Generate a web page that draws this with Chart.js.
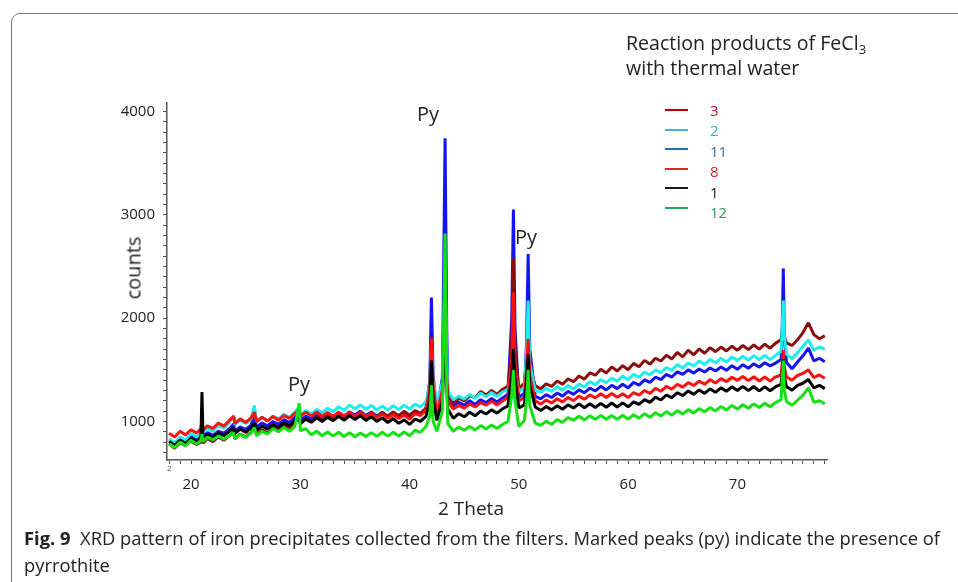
<!DOCTYPE html>
<html lang="en">
<head>
  <meta charset="UTF-8" />
  <meta name="viewport" content="width=device-width, initial-scale=1.0" />
  <title>XRD pattern of iron precipitates</title>
  <script src="https://cdn.jsdelivr.net/npm/chart.js"></script>
  <style>
    body {
      margin: 0;
      background: #fff;
      font-family: "Open Sans", Arial, sans-serif;
      color: #222;
    }
    #wrap {
      position: relative;
      width: 958px;
      height: 582px;
      overflow: hidden;
    }
    .frame {
      position: absolute;
      left: 11px;
      top: 13px;
      width: 1000px;
      height: 640px;
      border: 1.5px solid #7b7b7b;
      border-top-left-radius: 9px;
    }
    canvas {
      position: absolute;
      left: 0;
      top: 0;
    }
    .txt {
      position: absolute;
      white-space: nowrap;
    }
    .center {
      transform: translate(-50%, -50%);
    }
    .py {
      font-size: 20px;
    }
    #legendTitle {
      left: 626px;
      top: 30px;
      font-size: 19.6px;
      line-height: 25px;
    }
    #legendTitle sub {
      font-size: 13px;
      vertical-align: -4px;
      line-height: 0;
    }
    .legLine {
      position: absolute;
      left: 665px;
      width: 23px;
      height: 2px;
    }
    .legText {
      position: absolute;
      left: 710px;
      font-size: 15px;
      line-height: 20px;
    }
    #caption {
      left: 24px;
      top: 524px;
      font-size: 18.5px;
      line-height: 27px;
      transform-origin: left top;
    }
  </style>
</head>
<body>
  <div id="wrap">
    <div class="frame"></div>
    <canvas id="xrdChart" width="958" height="582"></canvas>

    <div class="txt" id="legendTitle">Reaction products of FeCl<sub>3</sub><br>with thermal water</div>
    <div id="legend"></div>

    <div class="txt center py" style="left:428px; top:113px;">Py</div>
    <div class="txt center py" style="left:526px; top:236px;">Py</div>
    <div class="txt center py" style="left:299px; top:383px;">Py</div>

    <div class="txt center" style="left:133px; top:268px; font-size:20px; transform: translate(-50%, -50%) rotate(-90deg);">counts</div>
    <div class="txt center" style="left:471px; top:508px; font-size:19px;">2 Theta</div>
    <div class="txt" style="left:167px; top:462px; font-size:8px; color:#555;">2</div>

    <div class="txt" id="caption"><span id="capLine"><b>Fig. 9</b>&nbsp; XRD pattern of iron precipitates collected from the filters. Marked peaks (py) indicate the presence of</span><br>pyrrothite</div>
  </div>

  <script>
    // 2 theta positions (shared by all samples)
    const twoTheta = [
      18, 18.5, 19, 19.5, 20, 20.5,
      20.9, 21, 21.1, 21.5, 22, 22.5, 23, 23.5,
      23.9, 24, 24.5, 25, 25.5, 25.8, 26, 26.5, 27, 27.5,
      28, 28.5, 29, 29.5, 29.9, 30, 30.5, 31, 31.5, 32, 32.5,
      33, 33.5, 34, 34.5, 35, 35.5, 36, 36.5, 37, 37.5,
      38, 38.5, 39, 39.5, 40, 40.5, 41, 41.5,
      41.85, 42, 42.15, 42.5, 43, 43.1, 43.25, 43.4, 43.5, 44, 44.5,
      45, 45.5, 46, 46.5, 47, 47.5, 48, 48.5, 49,
      49.35, 49.5, 49.65, 50, 50.5, 50.7, 50.85, 51, 51.5, 52, 52.5,
      53, 53.5, 54, 54.5, 55, 55.5, 56, 56.5, 57, 57.5,
      58, 58.5, 59, 59.5, 60, 60.5, 61, 61.5, 62, 62.5,
      63, 63.5, 64, 64.5, 65, 65.5, 66, 66.5, 67, 67.5,
      68, 68.5, 69, 69.5, 70, 70.5, 71, 71.5, 72, 72.5,
      73, 73.5, 74, 74.1, 74.2, 74.3, 74.5, 75, 75.5,
      76, 76.5, 77, 77.5, 78
    ];

    // sample 3
    const counts3 = [
      785, 740, 795, 765, 812, 778,
      800, 880, 790, 835, 805, 850, 818, 860,
      900, 832, 878, 852, 895, 950, 872, 918, 890, 935,
      912, 962, 940, 990, 1040, 978, 1022, 996, 1045, 1012, 1058,
      1025, 1070, 1032, 1078, 1040, 1085, 1045, 1080, 1038, 1090,
      1048, 1092, 1055, 1098, 1060, 1105, 1078, 1130,
      1300, 1810, 1350, 1110, 1330, 1650, 2100, 1500, 1260, 1170, 1225,
      1200, 1250, 1228, 1290, 1255, 1300, 1262, 1310, 1340,
      1700, 2580, 1650, 1320, 1370, 1600, 1950, 1540, 1345, 1315, 1365,
      1338, 1392, 1360, 1412, 1385, 1440, 1410, 1470, 1448, 1505,
      1470, 1528, 1488, 1540, 1500, 1562, 1530, 1590, 1555, 1612,
      1585, 1640, 1605, 1668, 1625, 1690, 1645, 1702, 1660, 1715,
      1675, 1720, 1682, 1728, 1690, 1735, 1695, 1740, 1700, 1748,
      1710, 1758, 1790, 1860, 1930, 1820, 1760, 1735, 1790,
      1860, 1955, 1840, 1800, 1830
    ];

    // sample 2
    const counts2 = [
      830, 795, 850, 820, 885, 850,
      900, 990, 905, 930, 905, 965, 935, 990,
      1060, 970, 1012, 980, 1025, 1155, 995, 1040, 1005, 1052,
      1022, 1068, 1040, 1092, 1140, 1062, 1105, 1072, 1118, 1085, 1128,
      1095, 1142, 1108, 1158, 1122, 1160, 1118, 1155, 1112, 1150,
      1110, 1152, 1115, 1158, 1120, 1168, 1140, 1195,
      1350, 1750, 1400, 1160, 1380, 1800, 2460, 1650, 1300, 1210, 1245,
      1215, 1262, 1225, 1275, 1238, 1280, 1242, 1285, 1310,
      1500, 1850, 1480, 1290, 1320, 1650, 2170, 1560, 1300, 1282, 1322,
      1292, 1338, 1302, 1348, 1312, 1362, 1335, 1385, 1355, 1405,
      1375, 1420, 1390, 1438, 1405, 1455, 1428, 1478, 1450, 1500,
      1472, 1522, 1495, 1550, 1518, 1565, 1538, 1585, 1552, 1600,
      1568, 1610, 1575, 1625, 1590, 1632, 1595, 1635, 1598, 1638,
      1598, 1640, 1680, 1900, 2170, 1820, 1650, 1605, 1665,
      1725, 1790, 1690, 1722, 1700
    ];

    // sample 11
    const counts11 = [
      818, 785, 835, 800, 858, 826,
      860, 930, 850, 892, 865, 905, 885, 928,
      975, 905, 948, 922, 965, 1060, 945, 985, 958, 1000,
      972, 1018, 990, 1038, 1080, 1012, 1052, 1022, 1062, 1035, 1072,
      1042, 1085, 1050, 1092, 1062, 1098, 1058, 1092, 1052, 1088,
      1045, 1085, 1046, 1080, 1042, 1092, 1070, 1122,
      1400, 2200, 1450, 1100, 1420, 2300, 3740, 1900, 1280, 1150, 1185,
      1158, 1200, 1165, 1210, 1182, 1222, 1188, 1228, 1262,
      2000, 3050, 1900, 1235, 1270, 1750, 2620, 1700, 1245, 1218, 1260,
      1232, 1275, 1245, 1292, 1262, 1305, 1278, 1322, 1295, 1340,
      1305, 1350, 1318, 1360, 1325, 1378, 1352, 1402, 1378, 1428,
      1405, 1455, 1430, 1480, 1455, 1500, 1468, 1508, 1478, 1518,
      1488, 1528, 1495, 1540, 1505, 1550, 1515, 1558, 1525, 1568,
      1538, 1565, 1600, 1900, 2480, 1800, 1570, 1510, 1575,
      1635, 1710, 1585, 1612, 1578
    ];

    // sample 8
    const counts8 = [
      885, 850, 905, 870, 920, 888,
      930, 1000, 920, 958, 932, 985, 955, 1010,
      1050, 980, 1025, 990, 1035, 1090, 1000, 1042, 1005, 1048,
      1012, 1058, 1030, 1078, 1110, 1050, 1090, 1052, 1092, 1050, 1088,
      1050, 1090, 1052, 1088, 1048, 1085, 1045, 1080, 1038, 1072,
      1030, 1068, 1028, 1062, 1022, 1075, 1058, 1110,
      1320, 1800, 1350, 1080, 1300, 1600, 2000, 1450, 1200, 1120, 1155,
      1128, 1170, 1140, 1182, 1158, 1195, 1160, 1198, 1230,
      1600, 2250, 1550, 1200, 1230, 1500, 1800, 1450, 1200, 1168, 1208,
      1178, 1220, 1190, 1232, 1202, 1245, 1215, 1258, 1228, 1268,
      1232, 1270, 1235, 1268, 1232, 1280, 1255, 1300, 1272, 1320,
      1292, 1340, 1312, 1360, 1332, 1375, 1348, 1390, 1360, 1405,
      1372, 1415, 1385, 1428, 1398, 1435, 1395, 1432, 1392, 1430,
      1392, 1432, 1450, 1560, 1690, 1520, 1430, 1400, 1445,
      1465, 1500, 1425, 1450, 1418
    ];

    // sample 1
    const counts1 = [
      805, 770, 820, 785, 838, 805,
      830, 1285, 840, 872, 845, 888, 862, 905,
      940, 882, 925, 895, 940, 985, 912, 955, 925, 970,
      942, 988, 960, 1008, 1040, 982, 1025, 992, 1035, 1000, 1042,
      1008, 1050, 1012, 1055, 1020, 1055, 1010, 1045, 1000, 1035,
      990, 1028, 982, 1015, 972, 1022, 1000, 1050,
      1200, 1590, 1220, 1010, 1200, 1450, 1750, 1350, 1120, 1030, 1075,
      1045, 1090, 1055, 1100, 1072, 1112, 1080, 1122, 1150,
      1450, 1700, 1400, 1130, 1160, 1380, 1650, 1350, 1140, 1105, 1145,
      1112, 1152, 1118, 1160, 1130, 1170, 1132, 1172, 1135, 1175,
      1138, 1178, 1140, 1180, 1142, 1190, 1165, 1212, 1185, 1235,
      1208, 1256, 1230, 1278, 1250, 1295, 1262, 1305, 1272, 1315,
      1282, 1325, 1292, 1335, 1300, 1340, 1298, 1338, 1296, 1335,
      1298, 1336, 1360, 1480, 1600, 1430, 1335, 1302, 1350,
      1370, 1405, 1325, 1350, 1318
    ];

    // sample 12
    const counts12 = [
      785, 748, 800, 765, 818, 785,
      812, 880, 805, 848, 822, 860, 828, 865,
      890, 832, 875, 845, 890, 940, 862, 905, 880, 928,
      900, 942, 905, 948, 1175, 910, 930, 872, 905, 862, 898,
      858, 895, 855, 890, 852, 888, 855, 892, 856, 895,
      858, 895, 860, 898, 862, 915, 895, 952,
      1050, 1350, 1000, 905, 1100, 1800, 2820, 1300, 980, 905, 945,
      915, 952, 918, 960, 928, 965, 932, 970, 1000,
      1250, 1500, 1200, 950, 1010, 1200, 1500, 1150, 985, 962, 1002,
      972, 1018, 992, 1038, 1012, 1050, 1015, 1055, 1020, 1058,
      1022, 1058, 1020, 1060, 1022, 1065, 1032, 1075, 1040, 1085,
      1052, 1095, 1060, 1105, 1072, 1115, 1080, 1125, 1092, 1135,
      1102, 1145, 1110, 1155, 1120, 1162, 1128, 1170, 1135, 1176,
      1142, 1185, 1210, 1400, 1590, 1300, 1190, 1158, 1205,
      1255, 1325, 1185, 1200, 1170
    ];

    const sampleNames = ['3', '2', '11', '8', '1', '12'];
    const sampleCounts = [counts3, counts2, counts11, counts8, counts1, counts12];
    const lineColors = ['#8a0c0c', '#1ceeee', '#1414f0', '#ff1010', '#000000', '#14e014'];
    const legendLineColors = ['#c00000', '#3cb6e2', '#2f6db3', '#e8262a', '#1a1a1a', '#27a85a'];
    const legendTextColors = ['#c0141c', '#35afdc', '#3b6eb0', '#e01f2c', '#222222', '#2a9e58'];
    const drawOrder = [4, 3, 5, 2, 1, 0]; // lower = drawn on top

    const xLabels = [20, 30, 40, 50, 60, 70];
    const yLabels = [1000, 2000, 3000, 4000];

    // legend block
    const legend = document.getElementById('legend');
    sampleNames.forEach((name, i) => {
      const line = document.createElement('div');
      line.className = 'legLine';
      line.style.top = (109 + i * 19.5) + 'px';
      line.style.background = legendLineColors[i];
      legend.appendChild(line);

      const label = document.createElement('div');
      label.className = 'legText';
      label.style.top = (100 + i * 20.4) + 'px';
      label.style.color = legendTextColors[i];
      label.textContent = name;
      legend.appendChild(label);
    });

    const datasets = sampleNames.map((name, i) => ({
      label: name,
      data: twoTheta.map((t, k) => ({ x: t, y: sampleCounts[i][k] })),
      borderColor: lineColors[i],
      borderWidth: 3,
      borderJoinStyle: 'bevel',
      pointRadius: 0,
      tension: 0,
      fill: false,
      order: drawOrder[i]
    }));

    const tickFont = { family: 'Open Sans', size: 15 };

    const isLabel = (v, list) => Math.abs(v - Math.round(v)) < 1e-6 && list.includes(Math.round(v));

    new Chart(document.getElementById('xrdChart'), {
      type: 'line',
      data: { datasets: datasets },
      options: {
        responsive: false,
        animation: false,
        layout: {
          padding: { left: 0, top: 103, right: 131, bottom: 92 }
        },
        plugins: {
          legend: { display: false },
          tooltip: { enabled: false }
        },
        scales: {
          x: {
            type: 'linear',
            min: 17.8,
            max: 78.2,
            border: { color: '#555', width: 1.5 },
            grid: { drawOnChartArea: false, drawTicks: true, tickLength: 4, tickColor: '#555' },
            ticks: {
              stepSize: 1,
              maxTicksLimit: 1000,
              autoSkip: false,
              includeBounds: false,
              maxRotation: 0,
              padding: 12,
              color: '#222',
              font: tickFont,
              callback: v => isLabel(v, xLabels) ? String(Math.round(v)) : ''
            },
            afterFit: scale => { scale.height = 30; }
          },
          y: {
            type: 'linear',
            min: 627,
            max: 4082,
            border: { color: '#555', width: 1.5 },
            grid: { drawOnChartArea: false, drawTicks: true, tickLength: 4, tickColor: '#555' },
            ticks: {
              stepSize: 100,
              maxTicksLimit: 1000,
              autoSkip: false,
              includeBounds: false,
              padding: 8,
              color: '#222',
              font: tickFont,
              callback: v => isLabel(v, yLabels) ? String(Math.round(v)) : ''
            },
            afterFit: scale => { scale.width = 167; }
          }
        }
      }
    });

    // stretch the caption's first line to the printed figure width
    const caption = document.getElementById('caption');
    const capLine = document.getElementById('capLine');
    const fitWidth = 916;
    caption.style.transform = 'scaleX(' + (fitWidth / capLine.getBoundingClientRect().width) + ')';
  </script>
</body>
</html>
